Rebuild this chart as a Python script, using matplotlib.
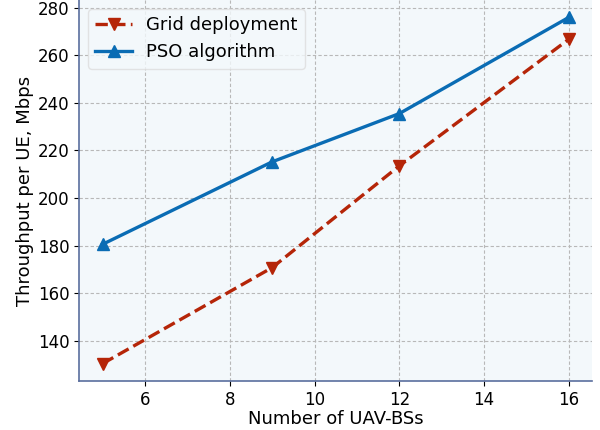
import numpy as np
import matplotlib
matplotlib.use("Agg")
import matplotlib.pyplot as plt

plt.rcParams['font.family'] = ['DejaVu Sans']

n_uav = [5, 9, 12, 16]
grid_tp = [130.3, 170.7, 213.5, 266.8]
pso_tp = [180.5, 215.2, 235.5, 276.0]

fig = plt.figure(figsize=(6, 4.3), dpi=100)
ax = fig.add_axes([0.132, 0.114, 0.855, 0.886])
ax.set_facecolor('#f3f8fb')

ax.plot(n_uav, grid_tp, '--v', color='#b52508', lw=2.4, ms=8, label='Grid deployment')
ax.plot(n_uav, pso_tp, '-^', color='#0a6cb4', lw=2.4, ms=8, label='PSO algorithm')

ax.grid(True, ls=(0, (3, 2)), color='#b8b8b8', lw=0.8)
ax.set_axisbelow(True)
for s in ['top', 'right']:
    ax.spines[s].set_visible(False)
for s in ['left', 'bottom']:
    ax.spines[s].set_color('#5a6e9e')
    ax.spines[s].set_linewidth(1.2)

ax.tick_params(labelsize=12)
ax.set_xlabel('Number of UAV-BSs', fontsize=13, labelpad=1)
ax.set_ylabel('Throughput per UE, Mbps', fontsize=13, labelpad=3)
ax.legend(fontsize=13, loc='upper left', frameon=True,
          facecolor='#f3f8fb', edgecolor='#dddddd')

fig.savefig('out.png', dpi=100)
